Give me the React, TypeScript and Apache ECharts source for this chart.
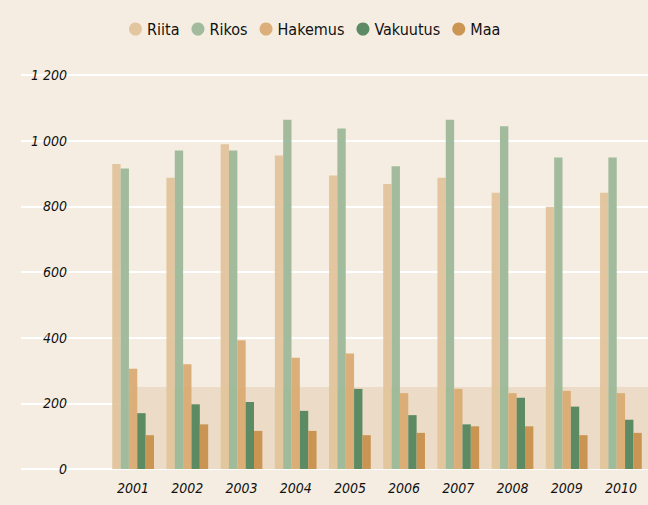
import React, { useEffect, useRef } from "react";
import * as echarts from "echarts";

const years = ["2001", "2002", "2003", "2004", "2005", "2006", "2007", "2008", "2009", "2010"];
const riita = [929, 887, 989, 955, 894, 868, 887, 841, 799, 841];
const rikos = [915, 970, 970, 1064, 1037, 922, 1064, 1044, 949, 949];
const hakemus = [305, 319, 392, 339, 352, 231, 244, 231, 238, 231];
const vakuutus = [170, 197, 204, 177, 244, 164, 136, 217, 190, 150];
const maa = [103, 136, 116, 116, 103, 110, 130, 130, 103, 110];
const seriesNames = ["Riita", "Rikos", "Hakemus", "Vakuutus", "Maa"];
const seriesColors = ["#e2c49b", "#9cb898", "#daab74", "#53855e", "#c8904c"];
const bandRange = [0, 250];

const FONT = "'DejaVu Sans Condensed', 'Liberation Sans Narrow', sans-serif";

const fmt = (v: number) => {
  const s = String(Math.round(v));
  return s.replace(/\B(?=(\d{3})+(?!\d))/g, " ");
};

export default function App() {
  const ref = useRef<HTMLDivElement>(null);
  useEffect(() => {
    if (!ref.current) return;
    const chart = echarts.init(ref.current, null, { renderer: "svg" });
    const values = [riita, rikos, hakemus, vakuutus, maa];
    const top = 75;
    const bottom = 36;
    chart.setOption({
      animation: false,
      backgroundColor: "#f5ede1",
      legend: {
        data: seriesNames,
        top: 16,
        left: 124,
        icon: "circle",
        itemWidth: 13,
        itemHeight: 13,
        itemGap: 12,
        textStyle: { fontFamily: FONT, fontSize: 16, color: "#111" },
      },
      grid: [
        { left: 21, right: 0, top, bottom },
        { left: 106, right: -14, top, bottom },
      ],
      xAxis: [
        { type: "category", gridIndex: 0, data: ["x"], show: false },
        {
          type: "category",
          gridIndex: 1,
          data: years,
          axisLine: { show: false },
          axisTick: { show: false },
          axisLabel: {
            margin: 12,
            fontFamily: FONT,
            fontStyle: "italic",
            fontSize: 14,
            color: "#111",
          },
        },
      ],
      yAxis: [
        {
          type: "value",
          gridIndex: 0,
          min: 0,
          max: 1200,
          interval: 200,
          z: 1,
          axisLine: { show: false },
          axisTick: { show: false },
          axisLabel: { show: false },
          splitLine: { lineStyle: { color: "#ffffff", width: 2 } },
        },
        {
          type: "value",
          gridIndex: 1,
          min: 0,
          max: 1200,
          interval: 200,
          z: 3,
          axisLine: { show: false },
          axisTick: { show: false },
          splitLine: { show: false },
          axisLabel: {
            margin: 39,
            align: "right",
            formatter: (v: number) => fmt(v),
            fontFamily: FONT,
            fontStyle: "italic",
            fontSize: 14,
            color: "#111",
          },
        },
      ],
      series: [
        {
          type: "line",
          name: "band",
          xAxisIndex: 1,
          yAxisIndex: 1,
          data: [],
          z: 0,
          silent: true,
          markArea: {
            silent: true,
            itemStyle: { color: "#ecdcc7" },
            data: [[{ xAxis: years[0], yAxis: bandRange[0] }, { xAxis: Infinity, yAxis: bandRange[1] }]],
          },
        },
        ...seriesNames.map((name, i) => ({
          type: "bar",
          name,
          xAxisIndex: 1,
          yAxisIndex: 1,
          data: values[i],
          z: 2,
          barGap: "0%",
          barCategoryGap: "23%",
          itemStyle: { color: seriesColors[i], opacity: 0.95 },
        })),
      ],
    });
    return () => chart.dispose();
  }, []);
  return (
    <div
      ref={ref}
      style={{ position: "fixed", left: 0, top: 0, width: 648, height: 505, background: "#f5ede1" }}
    />
  );
}
